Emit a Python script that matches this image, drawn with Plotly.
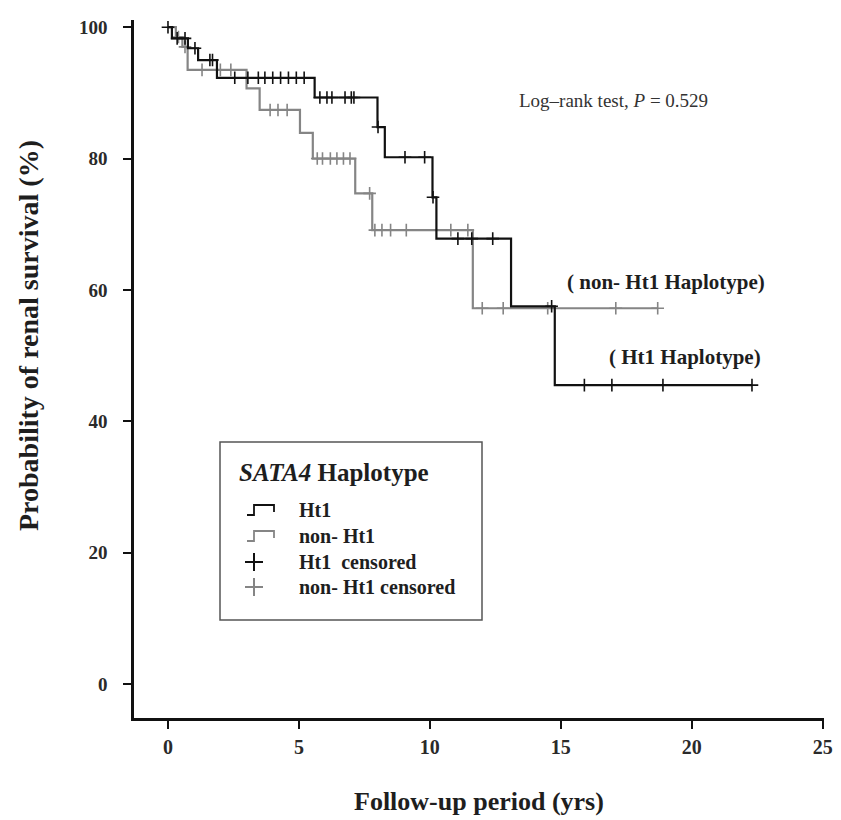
import plotly.graph_objects as go

# ---------------- data ----------------
# Ht1 haplotype (black) : event times and survival after each step (%)
ht1_times = [0.15, 0.76, 1.15, 1.87, 5.6, 8.0, 8.28, 10.1, 10.25, 13.1, 14.77]
ht1_surv = [98.3, 96.8, 95.0, 92.3, 89.3, 84.8, 80.2, 74.1, 67.8, 57.5, 45.5]
ht1_end = 22.3
ht1_censored = [0.0, 0.35, 0.65, 1.03, 1.6, 1.7, 2.55, 3.05, 3.45, 3.7, 4.0, 4.3,
                4.6, 4.9, 5.2, 5.8, 6.07, 6.26, 6.76, 7.0, 7.1, 8.02, 9.05, 9.8,
                10.12, 11.07, 11.6, 12.4, 14.65, 15.9, 16.95, 18.9, 22.3]

# non-Ht1 haplotype (grey)
non_times = [0.3, 0.55, 0.75, 3.0, 3.5, 5.04, 5.53, 7.15, 7.8, 11.64]
non_surv = [98.5, 97.0, 93.5, 90.7, 87.4, 83.9, 80.0, 74.7, 69.1, 57.2]
non_end = 18.7
non_censored = [0.4, 0.65, 1.3, 2.0, 2.4, 3.9, 4.2, 4.55, 5.7, 5.9, 6.2, 6.45,
                6.7, 6.95, 7.7, 7.9, 8.17, 8.5, 9.1, 10.8, 11.45, 12.0, 12.8,
                14.5, 17.1, 18.7]

x_ticks = [0, 5, 10, 15, 20, 25]
y_ticks = [0, 20, 40, 60, 80, 100]

BLACK = "#111111"
GREY = "#858585"
TXT = "#1e1e1e"
SERIF = "Liberation Serif, Times New Roman, serif"


def step_xy(times, surv, end):
    xs = [0.0] + list(times) + [end]
    ys = [100.0] + list(surv) + [surv[-1]]
    return xs, ys


def surv_at(t, times, surv):
    s = 100.0
    for ti, si in zip(times, surv):
        if t >= ti:
            s = si
    return s


fig = go.Figure()

nx, ny = step_xy(non_times, non_surv, non_end)
fig.add_trace(go.Scatter(x=nx, y=ny, mode="lines", line=dict(color=GREY, width=2.2, shape="hv"),
                         showlegend=False, hoverinfo="skip"))
fig.add_trace(go.Scatter(x=non_censored, y=[surv_at(t, non_times, non_surv) for t in non_censored],
                         mode="markers", marker=dict(symbol="cross-thin", size=9,
                                                     line=dict(color=GREY, width=1.6)),
                         showlegend=False))

hx, hy = step_xy(ht1_times, ht1_surv, ht1_end)
fig.add_trace(go.Scatter(x=hx, y=hy, mode="lines", line=dict(color=BLACK, width=2.2, shape="hv"),
                         showlegend=False, hoverinfo="skip"))
fig.add_trace(go.Scatter(x=ht1_censored, y=[surv_at(t, ht1_times, ht1_surv) for t in ht1_censored],
                         mode="markers", marker=dict(symbol="cross-thin", size=9,
                                                     line=dict(color=BLACK, width=1.6)),
                         showlegend=False))

# ---------------- layout ----------------
# plot area in page pixels (page has an 8px body margin)
OFF = 8
L, R, T, B = 134, 824, 20, 718
W, H = 841 - OFF, 820 - OFF


def px(x):
    return (x - L) / (R - L)


def py(y):
    return (B - y) / (B - T)


shapes = []
annotations = []

# legend box
shapes.append(dict(type="rect", xref="paper", yref="paper", x0=px(220), x1=px(482),
                   y0=py(620), y1=py(442), line=dict(color="#555555", width=1.5)))
annotations.append(dict(xref="paper", yref="paper", x=px(237), y=py(473), xanchor="left",
                        yanchor="middle", showarrow=False,
                        text="<b><i>SATA4</i> Haplotype</b>",
                        font=dict(family=SERIF, size=25, color=TXT)))

legend_rows = [("Ht1", 510, BLACK, "step"), ("non- Ht1", 536, GREY, "step"),
               ("Ht1  censored", 562, BLACK, "cross"), ("non- Ht1 censored", 587, GREY, "cross")]
for label, yrow, col, kind in legend_rows:
    annotations.append(dict(xref="paper", yref="paper", x=px(297), y=py(yrow), xanchor="left",
                            yanchor="middle", showarrow=False, text="<b>" + label + "</b>",
                            font=dict(family=SERIF, size=20, color=TXT)))
    if kind == "step":
        pts = [(247, yrow + 5), (254, yrow + 5), (254, yrow - 5), (274, yrow - 5), (274, yrow + 2)]
        path = "M " + " L ".join(f"{px(a):.5f},{py(b):.5f}" for a, b in pts)
        shapes.append(dict(type="path", xref="paper", yref="paper", path=path,
                           line=dict(color=col, width=1.8)))
    else:
        cx = 254
        shapes.append(dict(type="line", xref="paper", yref="paper", x0=px(cx - 9), x1=px(cx + 9),
                           y0=py(yrow), y1=py(yrow), line=dict(color=col, width=2)))
        shapes.append(dict(type="line", xref="paper", yref="paper", x0=px(cx), x1=px(cx),
                           y0=py(yrow - 9), y1=py(yrow + 9), line=dict(color=col, width=2)))

# text labels
annotations.append(dict(xref="paper", yref="paper", x=px(613), y=py(100), xanchor="center",
                        yanchor="middle", showarrow=False,
                        text="Log–rank test, <i>P</i> = 0.529",
                        font=dict(family=SERIF, size=19, color="#333")))
annotations.append(dict(xref="paper", yref="paper", x=px(666), y=py(282), xanchor="center",
                        yanchor="middle", showarrow=False, text="<b>( non- Ht1 Haplotype)</b>",
                        font=dict(family=SERIF, size=21, color=TXT)))
annotations.append(dict(xref="paper", yref="paper", x=px(685), y=py(357), xanchor="center",
                        yanchor="middle", showarrow=False, text="<b>( Ht1 Haplotype)</b>",
                        font=dict(family=SERIF, size=21, color=TXT)))
# axis titles
annotations.append(dict(xref="paper", yref="paper", x=px(479), y=py(801), xanchor="center",
                        yanchor="middle", showarrow=False, text="<b>Follow-up period (yrs)</b>",
                        font=dict(family=SERIF, size=26, color=TXT)))
annotations.append(dict(xref="paper", yref="paper", x=px(28), y=py(336), xanchor="center",
                        yanchor="middle", showarrow=False, textangle=-90,
                        text="<b>Probability of renal survival (%)</b>",
                        font=dict(family=SERIF, size=28, color=TXT)))

x0v = (L - 168) / 26.2
fig.update_layout(
    width=W, height=H,
    margin=dict(l=L - OFF, r=W - (R - OFF), t=T - OFF, b=H - (B - OFF), autoexpand=False),
    paper_bgcolor="white", plot_bgcolor="white",
    showlegend=False,
    xaxis=dict(range=[x0v, 25.05], tickvals=x_ticks, ticktext=[f"<b>{v}</b>" for v in x_ticks],
               showgrid=False, zeroline=False, showline=True, linecolor=BLACK, linewidth=2.5,
               ticks="outside", ticklen=8, tickwidth=1.8, tickcolor=BLACK, ticklabelstandoff=1,
               tickfont=dict(family=SERIF, size=20, color="#2a2a2a")),
    yaxis=dict(range=[-5.2, 101.1], tickvals=y_ticks, ticktext=[f"<b>{v}</b>" for v in y_ticks],
               showgrid=False, zeroline=False, showline=True, linecolor=BLACK, linewidth=2.5,
               ticks="outside", ticklen=8, tickwidth=1.8, tickcolor=BLACK, ticklabelstandoff=12,
               tickfont=dict(family=SERIF, size=19, color="#2a2a2a")),
    shapes=shapes, annotations=annotations,
)

fig.write_html("out.html")
